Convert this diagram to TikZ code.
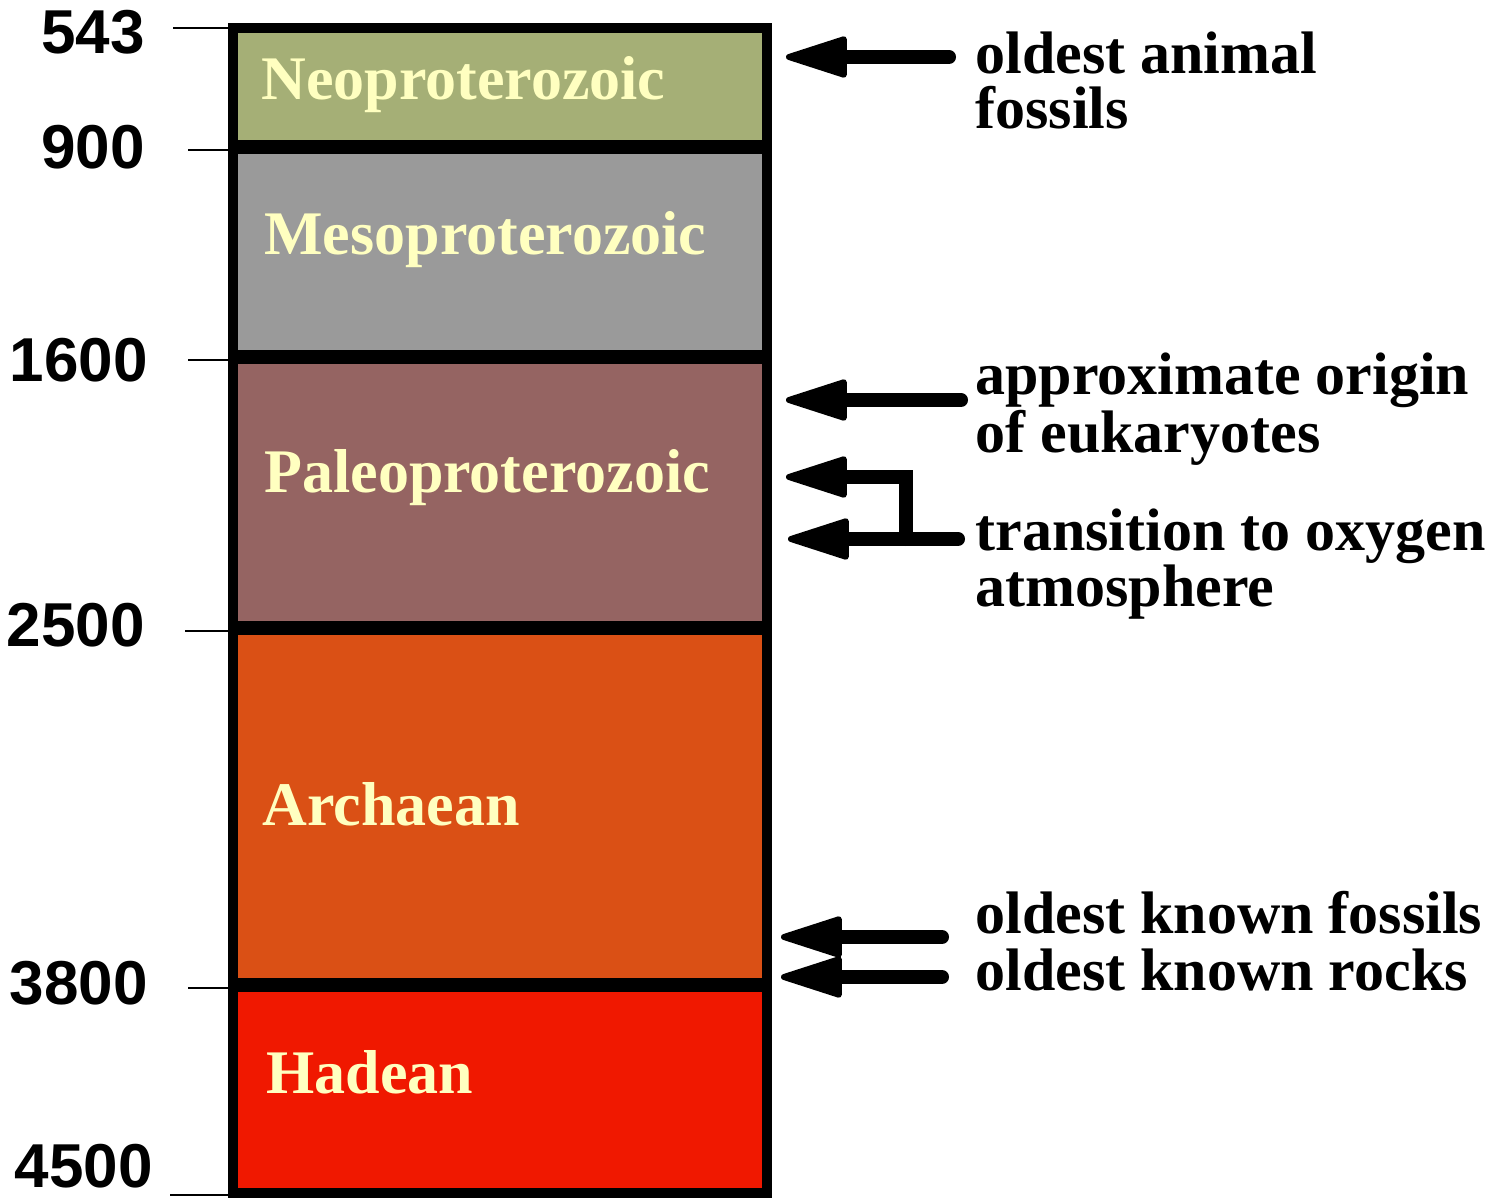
\documentclass[tikz,border=0pt]{standalone}
\usepackage{fontspec}
\setmainfont{Liberation Serif}
\newfontfamily\agefont{Liberation Sans}
\usetikzlibrary{arrows.meta,positioning}
\definecolor{neo}{HTML}{A5AF76}
\definecolor{meso}{HTML}{9A9A9A}
\definecolor{paleo}{HTML}{956462}
\definecolor{archae}{HTML}{DA5015}
\definecolor{hade}{HTML}{F01800}
\definecolor{eratext}{HTML}{FFFFC0}
\tikzset{
  agelabel/.style={anchor=east,inner sep=0pt,font=\agefont\bfseries\fontsize{31}{31}\selectfont},
  eralabel/.style={anchor=base west,inner sep=0pt,text=eratext,font=\bfseries\fontsize{31}{31}\selectfont},
  note/.style={anchor=base west,inner sep=0pt,font=\bfseries\fontsize{30}{30}\selectfont},
  tickline/.style={line width=1pt},
  sepline/.style={line width=7pt},
  bigarrow/.style={-{Triangle[length=34pt,width=21pt,line width=3pt,round]},line width=7pt,line cap=round}
}

\begin{document}
\begin{tikzpicture}[x=0.5pt,y=-0.5pt]
  \useasboundingbox (0,0) rectangle (1499,1203);

  % eras
  \fill[neo] (233,28) rectangle (767,147);
  \fill[meso] (233,147) rectangle (767,357);
  \fill[paleo] (233,357) rectangle (767,628);
  \fill[archae] (233,628) rectangle (767,985);
  \fill[hade] (233,985) rectangle (767,1193);
  \foreach \y in {147,357,628,985}
    \draw[sepline] (233,\y) -- (767,\y);
  \draw[line width=5pt] (233,28) rectangle (767,1193);

  \node[eralabel] (neolabel) at (261,100) {Neoproterozoic};
  \node[eralabel] (mesolabel) at (264,255) {Mesoproterozoic};
  \node[eralabel] (paleolabel) at (264,493) {Paleoproterozoic};
  \node[eralabel] (archlabel) at (262,825) {Archaean};
  \node[eralabel] (hadlabel) at (266,1093) {Hadean};

  % ages
  \node[agelabel] (age543) at (145,32) {543};
  \node[agelabel] (age900) at (145,147) {900};
  \node[agelabel] (age1600) at (148,360) {1600};
  \node[agelabel] (age2500) at (145,625) {2500};
  \node[agelabel] (age3800) at (148,983) {3800};
  \node[agelabel] (age4500) at (153,1166) {4500};
  \draw[tickline] (173,28) -- (233,28);
  \draw[tickline] (188,150) -- (233,150);
  \draw[tickline] (188,360) -- (233,360);
  \draw[tickline] (185,631) -- (233,631);
  \draw[tickline] (188,988) -- (233,988);
  \draw[tickline] (170,1195) -- (233,1195);

  % events
  \node[note] (animal) at (975,74) {oldest animal};
  \node[note] (animalb) at (975,129) {fossils};
  \node[note] (euk) at (975,395) {approximate origin};
  \node[note] (eukb) at (975,452) {of eukaryotes};
  \node[note] (oxy) at (975,550) {transition to oxygen};
  \node[note] (oxyb) at (975,606) {atmosphere};
  \node[note] (fossil) at (975,933) {oldest known fossils};
  \node[note] (rock) at (975,990) {oldest known rocks};

  \coordinate (animaltip) at (786,57);
  \coordinate (euktip) at (786,400);
  \coordinate (oxytip) at (786,477);
  \coordinate (oxytipb) at (788,539);
  \coordinate (oxybend) at (906,539);
  \coordinate (fossiltip) at (781,937);
  \coordinate (rocktip) at (781,977);

  \draw[bigarrow] ([xshift=-13pt]animal.west |- animaltip) -- (animaltip);
  \draw[bigarrow] ([xshift=-7pt]euk.west |- euktip) -- (euktip);
  \draw[bigarrow] ([xshift=-8.5pt]oxy.west |- oxytipb) -- (oxytipb);
  \draw[bigarrow] (oxybend) |- (oxytip);
  \draw[bigarrow] ([xshift=-16.5pt]fossil.west |- fossiltip) -- (fossiltip);
  \draw[bigarrow] ([xshift=-16.5pt]rock.west |- rocktip) -- (rocktip);
\end{tikzpicture}
\end{document}
